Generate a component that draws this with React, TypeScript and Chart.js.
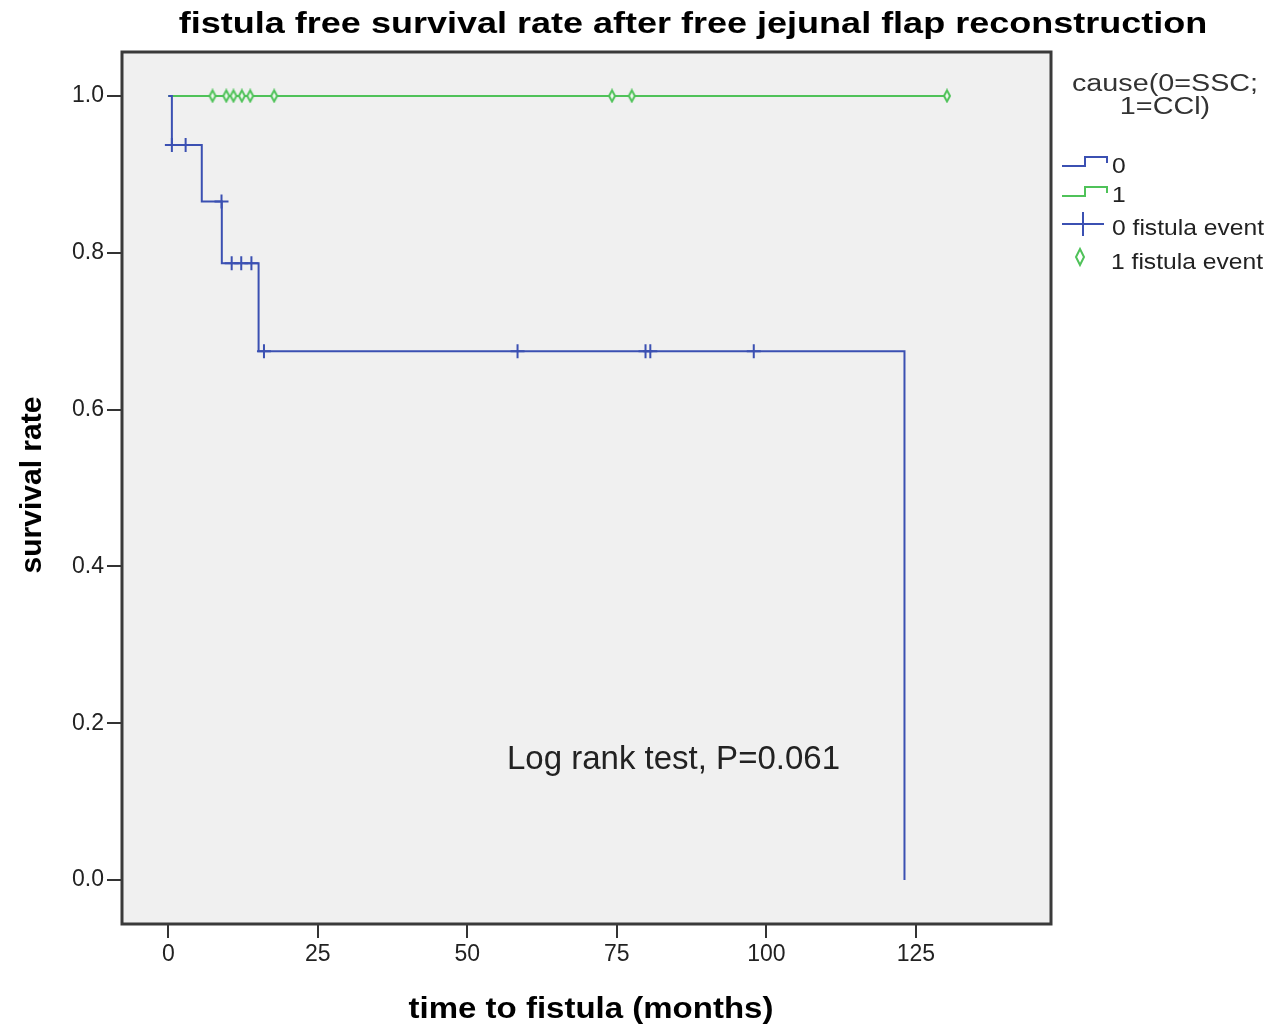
import React, { useEffect, useRef } from "react";
import { Chart, registerables } from "chart.js";
Chart.register(...registerables);

// axis ticks
const xTicks = [0, 25, 50, 75, 100, 125];
const yTicks = [0, 0.2, 0.4, 0.6, 0.8, 1.0];

// group 0 (SSC): Kaplan-Meier step curve
const sscTimes = [0, 0.6, 5.6, 8.95, 15.1, 123.1];
const sscSurvival = [1, 0.9375, 0.8654, 0.7867, 0.6743, 0];
// group 0 censored observations
const sscCensorTimes = [0.6, 2.9, 8.9, 10.6, 12.2, 13.9, 16.0, 58.4, 79.8, 80.6, 97.9];
const sscCensorSurvival = [0.9375, 0.9375, 0.8654, 0.7867, 0.7867, 0.7867, 0.6743, 0.6743, 0.6743, 0.6743, 0.6743];

// group 1 (CCI)
const cciTimes = [0, 130.2];
const cciSurvival = [1, 1];
const cciCensorTimes = [7.4, 9.7, 10.9, 12.3, 13.7, 17.7, 74.2, 77.5, 130.2];
const cciCensorSurvival = [1, 1, 1, 1, 1, 1, 1, 1, 1];

const legendLabels = ["0", "1", "0 fistula event", "1 fistula event"];

const BLUE = "#3b50b2";
const GREEN = "#4fc259";
const FONT = "'Liberation Sans', Arial, sans-serif";

function makeDiamond(w: number, h: number, color: string) {
  const c = document.createElement("canvas");
  c.width = w + 4;
  c.height = h + 4;
  const g = c.getContext("2d")!;
  g.beginPath();
  g.moveTo(c.width / 2, 2);
  g.lineTo(c.width - 2, c.height / 2);
  g.lineTo(c.width / 2, c.height - 2);
  g.lineTo(2, c.height / 2);
  g.closePath();
  g.fillStyle = "#eef8ee";
  g.fill();
  g.strokeStyle = color;
  g.lineWidth = 2;
  g.stroke();
  return c;
}

function txt(
  ctx: CanvasRenderingContext2D,
  s: string,
  x: number,
  y: number,
  font: string,
  stretch: number,
  align: CanvasTextAlign,
  color: string
) {
  ctx.save();
  ctx.translate(x, y);
  ctx.scale(stretch, 1);
  ctx.font = font;
  ctx.fillStyle = color;
  ctx.textAlign = align;
  ctx.textBaseline = "alphabetic";
  ctx.fillText(s, 0, 0);
  ctx.restore();
}

const decor = {
  id: "decor",
  beforeDraw(chart: any) {
    const { ctx, chartArea: a } = chart;
    ctx.save();
    ctx.fillStyle = "#ffffff";
    ctx.fillRect(0, 0, chart.width, chart.height);
    ctx.fillStyle = "#f0f0f0";
    ctx.fillRect(a.left, a.top, a.right - a.left, a.bottom - a.top);
    ctx.restore();
  },
  beforeDatasetsDraw(chart: any) {
    const { ctx, chartArea: a } = chart;
    ctx.save();
    ctx.strokeStyle = "#3a3a3a";
    ctx.lineWidth = 3;
    ctx.strokeRect(a.left, a.top, a.right - a.left, a.bottom - a.top);
    ctx.restore();
  },
  afterDraw(chart: any) {
    const ctx: CanvasRenderingContext2D = chart.ctx;
    // title
    txt(ctx, "fistula free survival rate after free jejunal flap reconstruction", 693, 33, `bold 30px ${FONT}`, 1.2, "center", "#000");
    // axis titles
    txt(ctx, "time to fistula (months)", 591, 1018, `bold 30px ${FONT}`, 1.1, "center", "#000");
    ctx.save();
    ctx.translate(41, 485);
    ctx.rotate(-Math.PI / 2);
    txt(ctx, "survival rate", 0, 0, `bold 30px ${FONT}`, 1.0, "center", "#000");
    ctx.restore();
    // annotation
    txt(ctx, "Log rank test, P=0.061", 507, 769, `33px ${FONT}`, 1.0, "left", "#222");
    // legend title
    txt(ctx, "cause(0=SSC;", 1165, 91, `23px ${FONT}`, 1.25, "center", "#333");
    txt(ctx, "1=CCl)", 1165, 114, `23px ${FONT}`, 1.25, "center", "#333");
    // legend symbols
    ctx.save();
    ctx.lineWidth = 2;
    const step = (y: number, color: string) => {
      ctx.strokeStyle = color;
      ctx.beginPath();
      ctx.moveTo(1062, y + 1);
      ctx.lineTo(1085, y + 1);
      ctx.lineTo(1085, y - 8);
      ctx.lineTo(1107, y - 8);
      ctx.lineTo(1107, y - 2);
      ctx.stroke();
    };
    step(165, BLUE);
    step(195, GREEN);
    ctx.strokeStyle = BLUE;
    ctx.beginPath();
    ctx.moveTo(1062, 224);
    ctx.lineTo(1104, 224);
    ctx.moveTo(1083, 212);
    ctx.lineTo(1083, 236);
    ctx.stroke();
    ctx.strokeStyle = GREEN;
    ctx.beginPath();
    ctx.moveTo(1080, 249);
    ctx.lineTo(1084, 257);
    ctx.lineTo(1080, 265);
    ctx.lineTo(1076, 257);
    ctx.closePath();
    ctx.stroke();
    ctx.restore();
    const ly = [173, 202, 235, 269];
    legendLabels.forEach((l, i) => {
      txt(ctx, l, i === 3 ? 1111 : 1112, ly[i], `22px ${FONT}`, 1.12, "left", "#222");
    });
  },
};

export default function App() {
  const ref = useRef<HTMLCanvasElement>(null);
  useEffect(() => {
    document.body.style.margin = "0";
    const diamond = makeDiamond(6, 11, GREEN);
    const toXY = (xs: number[], ys: number[]) => xs.map((x, i) => ({ x, y: ys[i] }));
    const tickFont = { family: FONT, size: 23 };
    const chart = new Chart(ref.current!, {
      type: "scatter",
      data: {
        datasets: [
          {
            label: "0 fistula event",
            data: toXY(sscCensorTimes, sscCensorSurvival),
            pointStyle: "cross",
            pointRadius: 7,
            pointBorderWidth: 2,
            borderColor: BLUE,
            backgroundColor: BLUE,
            showLine: false,
            order: 1,
          },
          {
            label: "1 fistula event",
            data: toXY(cciCensorTimes, cciCensorSurvival),
            pointStyle: diamond as any,
            pointRadius: 6,
            borderColor: GREEN,
            backgroundColor: GREEN,
            showLine: false,
            order: 2,
          },
          {
            label: "0",
            data: toXY(sscTimes, sscSurvival),
            showLine: true,
            stepped: "before",
            pointRadius: 0,
            borderColor: BLUE,
            borderWidth: 2,
            fill: false,
            order: 3,
          },
          {
            label: "1",
            data: toXY(cciTimes, cciSurvival),
            showLine: true,
            stepped: "before",
            pointRadius: 0,
            borderColor: GREEN,
            borderWidth: 2,
            fill: false,
            order: 4,
          },
        ],
      },
      options: {
        responsive: false,
        animation: false,
        layout: { padding: { top: 52, right: 221, left: 0, bottom: 0 } },
        plugins: {
          legend: { display: false },
          tooltip: { enabled: false },
          title: { display: false },
        },
        scales: {
          x: {
            type: "linear",
            min: -7.74,
            max: 147.6,
            afterFit: (s: any) => {
              s.height = 103;
            },
            afterBuildTicks: (s: any) => {
              s.ticks = xTicks.map((v) => ({ value: v }));
            },
            grid: { drawOnChartArea: false, drawTicks: true, tickLength: 14, color: "#333", lineWidth: 2 },
            border: { display: false },
            ticks: {
              font: tickFont,
              color: "#222",
              padding: 3,
              maxRotation: 0,
              autoSkip: false,
              callback: (v: any) => String(v),
            },
          },
          y: {
            type: "linear",
            min: -0.056,
            max: 1.056,
            afterFit: (s: any) => {
              s.width = 122;
            },
            afterBuildTicks: (s: any) => {
              s.ticks = yTicks.map((v) => ({ value: v }));
            },
            grid: { drawOnChartArea: false, drawTicks: true, tickLength: 15, color: "#333", lineWidth: 2 },
            border: { display: false },
            ticks: {
              font: tickFont,
              color: "#222",
              padding: 3,
              autoSkip: false,
              callback: (v: any) => Number(v).toFixed(1),
            },
          },
        },
      },
      plugins: [decor],
    } as any);
    return () => chart.destroy();
  }, []);
  return (
    <div style={{ width: 1272, height: 1027 }}>
      <canvas ref={ref} width={1272} height={1027} style={{ display: "block" }} />
    </div>
  );
}
